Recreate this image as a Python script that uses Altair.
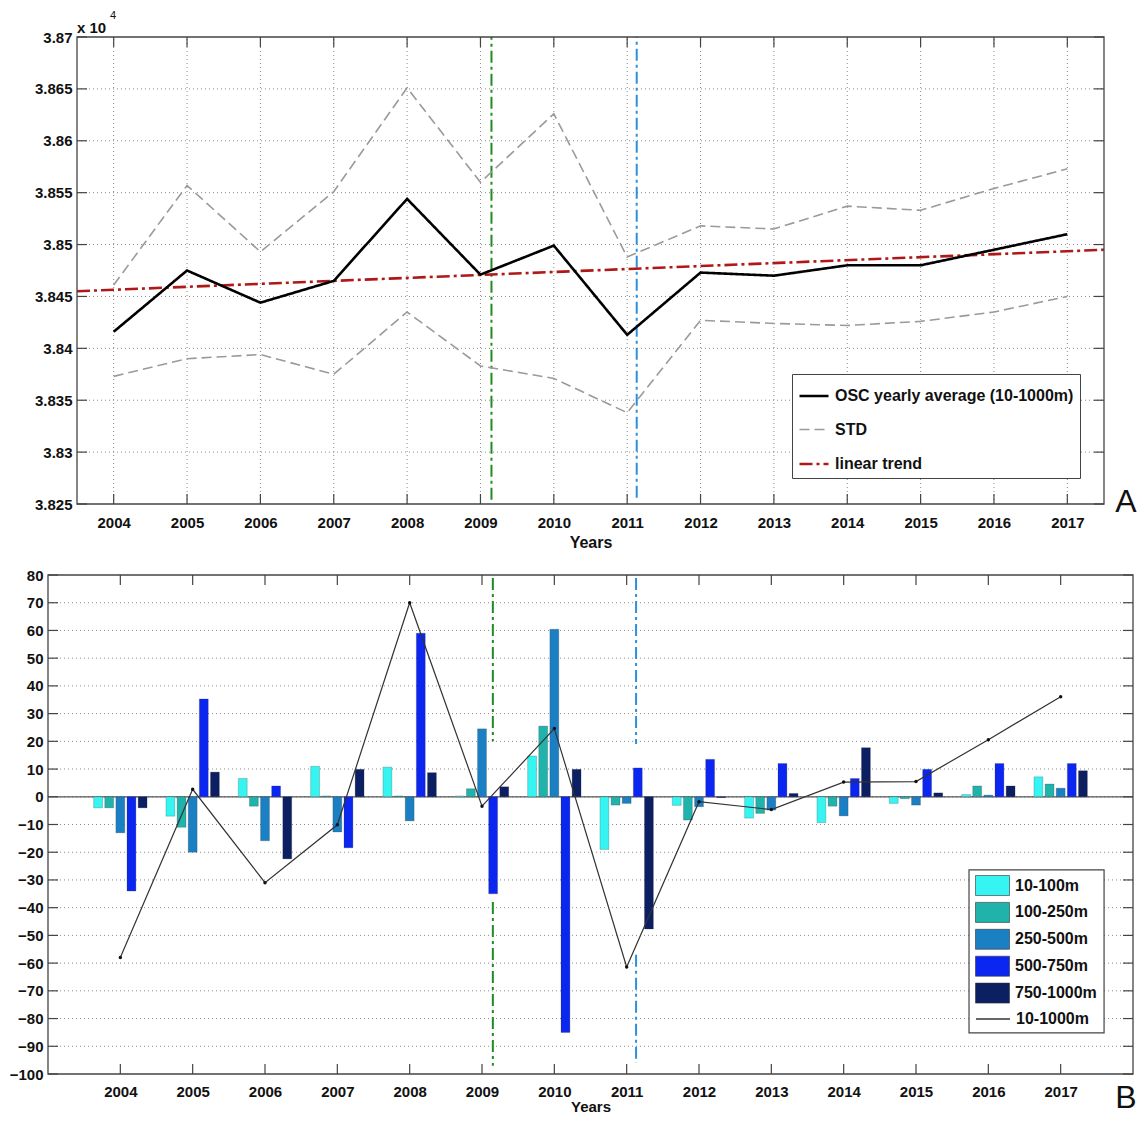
import altair as alt
import pandas as pd

# ---------------- data ----------------
years = list(range(2004, 2018))

# Panel A  (values x 10^4)
osc_mean = [3.8416, 3.8475, 3.8444, 3.8465, 3.8544, 3.8471, 3.8499,
            3.8413, 3.8473, 3.8470, 3.8480, 3.8480, 3.8495, 3.8510]
std_upper = [3.8461, 3.8557, 3.8493, 3.8551, 3.8651, 3.8560, 3.8626,
             3.8488, 3.8518, 3.8515, 3.8537, 3.8533, 3.8554, 3.8573]
std_lower = [3.8373, 3.8390, 3.8394, 3.8375, 3.8435, 3.8383, 3.8371,
             3.8338, 3.8427, 3.8424, 3.8422, 3.8426, 3.8435, 3.8450]
trend_years = [2003.5, 2017.5]
trend_values = [3.8455, 3.8495]
a_yticks = [3.825, 3.83, 3.835, 3.84, 3.845, 3.85, 3.855, 3.86, 3.865, 3.87]
a_series = ["OSC yearly average (10-1000m)", "STD", "linear trend"]

# Panel B
depth_labels = ["10-100m", "100-250m", "250-500m", "500-750m", "750-1000m"]
d_10_100 = [-4, -7, 6.6, 11, 10.7, 0.3, 14.7, -19, -3.1, -7.7, -9.3, -2.4, 0.8, 7.2]
d_100_250 = [-4, -11, -3.4, 0.3, 0.3, 2.9, 25.5, -3, -8.4, -6, -3.4, -0.7, 3.9, 4.6]
d_250_500 = [-13, -20, -15.9, -12.7, -8.7, 24.5, 60.4, -2.4, -3.6, -4.8, -6.9, -3, 0.6, 3.1]
d_500_750 = [-34, 35.3, 3.9, -18.4, 59, -35, -85, 10.4, 13.5, 12, 6.6, 9.9, 12, 12]
d_750_1000 = [-4, 8.9, -22.4, 9.9, 8.7, 3.6, 9.9, -47.7, -0.3, 1.2, 17.7, 1.4, 3.9, 9.4]
total_10_1000 = [-58, 2.7, -31, -10.1, 70, -3.4, 24.6, -61.4, -1.8, -4.6, 5.3, 5.5, 20.6, 36.1]
total_label = "10-1000m"
b_yticks = list(range(-100, 90, 10))

# event markers (dash-dot verticals)
green_year = 2009.15
blue_year = 2011.13
green_b_segments = [(78.9, 20), (-38, -97)]
blue_b_segments = [(78.9, 19), (-57, -96)]

depth_colors = ["#35F4F2", "#20B3AC", "#1B7FC3", "#0B26F0", "#0B1F62"]

# ---------------- layout (canvas pixels) ----------------
W, H = 1130, 1106
AXR = [69, 1096]
AYR = [496, 29]
BXR = [40, 1125]
BYR = [1066, 567]
A_XD = [2003.5, 2017.5]
A_YD = [3.825, 3.87]
B_XD = [2003, 2018]
B_YD = [-100, 80]

FONT = "Liberation Sans"
GRID = "#8a8a8a"
FRAME = "#444444"

sx_a = alt.Scale(domain=A_XD, range=AXR, nice=False, zero=False)
sy_a = alt.Scale(domain=A_YD, range=AYR, nice=False, zero=False)
sx_b = alt.Scale(domain=B_XD, range=BXR, nice=False, zero=False)
sy_b = alt.Scale(domain=B_YD, range=BYR, nice=False, zero=False)

common_axis = dict(grid=False, domain=False, ticks=False, tickSize=0,
                   labelFlush=False, labelOverlap=False)
ax_xa = alt.Axis(orient="bottom", offset=AYR[0] - H, values=years, format="d",
                 title="Years", labelPadding=11, titleY=38, titleBaseline="middle",
                 **common_axis)
ax_ya = alt.Axis(orient="left", offset=-AXR[0], values=a_yticks, format=".4~r",
                 title=None, labelPadding=5, **common_axis)
ax_xb = alt.Axis(orient="bottom", offset=BYR[0] - H, values=years, format="d",
                 title="Years", labelPadding=10, titleY=32, titleBaseline="middle",
                 titleFontSize=15, **common_axis)
ax_yb = alt.Axis(orient="left", offset=-BXR[0], values=b_yticks, format="d",
                 title=None, labelPadding=5, **common_axis)


def XA(f=None, d=None):
    if d is not None:
        return alt.XDatum(d, type="quantitative", scale=sx_a, axis=ax_xa)
    return alt.X(f, type="quantitative", scale=sx_a, axis=ax_xa)


def YA(f=None, d=None):
    if d is not None:
        return alt.YDatum(d, type="quantitative", scale=sy_a, axis=ax_ya)
    return alt.Y(f, type="quantitative", scale=sy_a, axis=ax_ya)


def XB(f=None, d=None):
    if d is not None:
        return alt.XDatum(d, type="quantitative", scale=sx_b, axis=ax_xb)
    return alt.X(f, type="quantitative", scale=sx_b, axis=ax_xb)


def YB(f=None, d=None):
    if d is not None:
        return alt.YDatum(d, type="quantitative", scale=sy_b, axis=ax_yb)
    return alt.Y(f, type="quantitative", scale=sy_b, axis=ax_yb)


one = pd.DataFrame({"k": [0]})

# ================= Panel A =================
a_xtick_len = (A_YD[1] - A_YD[0]) * 10 / abs(AYR[0] - AYR[1])
a_ytick_len = (A_XD[1] - A_XD[0]) * 10 / abs(AXR[1] - AXR[0])
b_xtick_len = (B_YD[1] - B_YD[0]) * 10 / abs(BYR[0] - BYR[1])
b_ytick_len = (B_XD[1] - B_XD[0]) * 10 / abs(BXR[1] - BXR[0])

a_gv = alt.Chart(pd.DataFrame({"year": years})).mark_rule(
    color=GRID, strokeDash=[1, 3], strokeWidth=1).encode(
    x=XA("year"), y=YA(d=A_YD[0]), y2=alt.Y2Datum(A_YD[1]))
a_gh = alt.Chart(pd.DataFrame({"v": a_yticks[1:-1]})).mark_rule(
    color=GRID, strokeDash=[1, 3], strokeWidth=1).encode(
    y=YA("v"), x=XA(d=A_XD[0]), x2=alt.X2Datum(A_XD[1]))

rows = []
for yv in years:
    rows.append((yv, yv, A_YD[0], A_YD[0] + a_xtick_len))
    rows.append((yv, yv, A_YD[1], A_YD[1] - a_xtick_len))
for v in a_yticks:
    rows.append((A_XD[0], A_XD[0] + a_ytick_len, v, v))
    rows.append((A_XD[1], A_XD[1] - a_ytick_len, v, v))
a_ticks_df = pd.DataFrame(rows, columns=["x", "x2", "y", "y2"])
a_ticks = alt.Chart(a_ticks_df).mark_rule(color=FRAME, strokeWidth=1.2).encode(
    x=XA("x"), x2="x2:Q", y=YA("y"), y2="y2:Q")

a_frame = alt.Chart(one).mark_rect(fill="transparent", stroke=FRAME, strokeWidth=1.3).encode(
    x=XA(d=A_XD[0]), x2=alt.X2Datum(A_XD[1]), y=YA(d=A_YD[0]), y2=alt.Y2Datum(A_YD[1]))

a_green = alt.Chart(one).mark_rule(color="#218C21", strokeDash=[12, 4, 3, 4], strokeWidth=2).encode(
    x=XA(d=green_year), y=YA(d=3.8254), y2=alt.Y2Datum(A_YD[1]))
a_blue = alt.Chart(one).mark_rule(color="#2C90DC", strokeDash=[12, 4, 3, 4], strokeWidth=2).encode(
    x=XA(d=blue_year), y=YA(d=3.8256), y2=alt.Y2Datum(A_YD[1]))

lines = []
for yv, v in zip(trend_years, trend_values):
    lines.append((a_series[2], "trend", yv, v))
for yv, v in zip(years, std_upper):
    lines.append((a_series[1], "upper", yv, v))
for yv, v in zip(years, std_lower):
    lines.append((a_series[1], "lower", yv, v))
for yv, v in zip(years, osc_mean):
    lines.append((a_series[0], "mean", yv, v))
a_df = pd.DataFrame(lines, columns=["series", "part", "year", "value"])

leg_a = alt.Legend(orient="none", legendX=784, legendY=366, title=None,
                   symbolType="stroke", symbolSize=841, symbolStrokeWidth=2,
                   labelFont=FONT, labelFontSize=16, labelFontWeight="bold",
                   labelColor="#111111", labelOffset=5, labelLimit=400,
                   padding=6, rowPadding=10, strokeColor=FRAME, fillColor="white",
                   labelExpr="datum.label == 'linear trend' ? '\u00a0\u00a0\u00a0\u00a0linear trend' : datum.label")

a_lines = alt.Chart(a_df).mark_line().encode(
    x=XA("year"), y=YA("value"),
    color=alt.Color("series:N", scale=alt.Scale(domain=a_series, range=["#000000", "#9a9a9a", "#B01818"]),
                    legend=leg_a),
    strokeDash=alt.StrokeDash("series:N", scale=alt.Scale(domain=a_series, range=[[1, 0], [10, 5], [13, 4, 3, 4]]),
                              legend=leg_a),
    strokeWidth=alt.StrokeWidth("series:N", scale=alt.Scale(type="ordinal", domain=a_series, range=[2.6, 1.6, 2.6]),
                                legend=None),
    detail="part:N",
    order="year:Q",
)

a_x10 = alt.Chart(one).mark_text(text="x 10", align="left", baseline="middle", dy=-9,
                                 font=FONT, fontSize=15, fontWeight="bold", color="#111111").encode(
    x=XA(d=A_XD[0]), y=YA(d=A_YD[1]))
a_exp = alt.Chart(one).mark_text(text="4", align="left", baseline="middle", dx=33, dy=-21,
                                 font=FONT, fontSize=11, color="#111111").encode(
    x=XA(d=A_XD[0]), y=YA(d=A_YD[1]))
a_letter = alt.Chart(one).mark_text(text="A", align="center", baseline="middle", dx=22, dy=-2,
                                    font=FONT, fontSize=32, color="#111111").encode(
    x=XA(d=A_XD[1]), y=YA(d=A_YD[0]))

panel_a = alt.layer(a_gv, a_gh, a_green, a_blue, a_lines, a_frame, a_ticks,
                    a_x10, a_exp, a_letter)

# ================= Panel B =================
b_gh = alt.Chart(pd.DataFrame({"v": b_yticks[1:-1]})).mark_rule(
    color=GRID, strokeDash=[1, 3], strokeWidth=1).encode(
    y=YB("v"), x=XB(d=B_XD[0]), x2=alt.X2Datum(B_XD[1]))

rows = []
for yv in years:
    rows.append((yv, yv, B_YD[0], B_YD[0] + b_xtick_len))
    rows.append((yv, yv, B_YD[1], B_YD[1] - b_xtick_len))
for v in b_yticks:
    rows.append((B_XD[0], B_XD[0] + b_ytick_len, v, v))
    rows.append((B_XD[1], B_XD[1] - b_ytick_len, v, v))
b_ticks_df = pd.DataFrame(rows, columns=["x", "x2", "y", "y2"])
b_ticks = alt.Chart(b_ticks_df).mark_rule(color=FRAME, strokeWidth=1.2).encode(
    x=XB("x"), x2="x2:Q", y=YB("y"), y2="y2:Q")

b_frame = alt.Chart(one).mark_rect(fill="transparent", stroke=FRAME, strokeWidth=1.3).encode(
    x=XB(d=B_XD[0]), x2=alt.X2Datum(B_XD[1]), y=YB(d=B_YD[0]), y2=alt.Y2Datum(B_YD[1]))

b_zero = alt.Chart(one).mark_rule(color="#555555", strokeWidth=1.2).encode(
    y=YB(d=0), x=XB(d=B_XD[0]), x2=alt.X2Datum(B_XD[1]))

series_vals = [d_10_100, d_100_250, d_250_500, d_500_750, d_750_1000]
group_w = 5 / 6.5
bar_step = group_w / 5
bar_w = bar_step * 0.8
bar_rows = []
for i, (lab, vals) in enumerate(zip(depth_labels, series_vals)):
    off = (i - 2) * bar_step
    for yv, v in zip(years, vals):
        bar_rows.append((lab, yv, v, yv + off - bar_w / 2, yv + off + bar_w / 2))
b_df = pd.DataFrame(bar_rows, columns=["depth", "year", "value", "x0", "x1"])

leg_b = alt.Legend(orient="none", legendX=974, legendY=867, title=None,
                   symbolType="M-1.7,-1H1.7V1H-1.7Z", symbolSize=400,
                   symbolStrokeColor="#333333", symbolStrokeWidth=0.6,
                   labelFont=FONT, labelFontSize=16, labelFontWeight="bold",
                   labelColor="#111111", labelOffset=12, labelLimit=300,
                   padding=0, rowPadding=3.9)

b_bars = alt.Chart(b_df).mark_bar(stroke="#333333", strokeWidth=0.4, strokeOpacity=0.6).encode(
    x=XB("x0"), x2="x1:Q", y=YB("value"), y2=alt.Y2Datum(0),
    color=alt.Color("depth:N", scale=alt.Scale(domain=depth_labels, range=depth_colors),
                    legend=leg_b),
)

b_legbox = alt.Chart(one).mark_rect(fill="white", stroke=FRAME, strokeWidth=1.2).encode(
    x=XB(d=2015.733), x2=alt.X2Datum(2017.6), y=YB(d=-26.4), y2=alt.Y2Datum(-85.2))

ev_rows = []
for a, b in green_b_segments:
    ev_rows.append(("green", green_year, a, b))
for a, b in blue_b_segments:
    ev_rows.append(("blue", blue_year, a, b))
ev_df = pd.DataFrame(ev_rows, columns=["ev", "x", "y", "y2"])
b_green = alt.Chart(ev_df[ev_df.ev == "green"]).mark_rule(
    color="#218C21", strokeDash=[12, 4, 3, 4], strokeWidth=2).encode(
    x=XB("x"), y=YB("y"), y2="y2:Q")
b_blue = alt.Chart(ev_df[ev_df.ev == "blue"]).mark_rule(
    color="#2C90DC", strokeDash=[12, 4, 3, 4], strokeWidth=2).encode(
    x=XB("x"), y=YB("y"), y2="y2:Q")

tot_df = pd.DataFrame({"year": years, "value": total_10_1000, "name": total_label})
leg_line = alt.Legend(orient="none", legendX=974, legendY=1000, title=None,
                      symbolType="M-1.7,0H1.7", symbolSize=400, symbolStrokeWidth=1.5,
                      labelFont=FONT, labelFontSize=16, labelFontWeight="bold",
                      labelColor="#111111", labelOffset=12, labelLimit=300, padding=0)
b_line = alt.Chart(tot_df).mark_line(strokeWidth=1.2).encode(
    x=XB("year"), y=YB("value"),
    stroke=alt.Stroke("name:N", scale=alt.Scale(domain=[total_label], range=["#333333"]),
                      legend=leg_line),
)
b_pts = alt.Chart(tot_df).mark_point(filled=True, size=12, color="#111111", opacity=1).encode(
    x=XB("year"), y=YB("value"))

b_letter = alt.Chart(one).mark_text(text="B", align="center", baseline="middle", dx=-7, dy=24,
                                    font=FONT, fontSize=32, color="#111111").encode(
    x=XB(d=B_XD[1]), y=YB(d=B_YD[0]))

panel_b = alt.layer(b_gh, b_zero, b_bars, b_green, b_blue, b_legbox, b_frame, b_ticks,
                    b_line, b_pts, b_letter)

chart = alt.layer(panel_a, panel_b).resolve_scale(
    x="independent", y="independent", color="independent",
    strokeDash="independent", strokeWidth="independent", stroke="independent",
).properties(
    width=W, height=H, autosize=alt.AutoSizeParams(type="none"), padding=0,
).configure_view(stroke="transparent").configure_axis(
    labelFont=FONT, labelFontSize=15, labelFontWeight="bold", labelColor="#111111",
    titleFont=FONT, titleFontSize=16, titleFontWeight="bold", titleColor="#111111",
)

chart.save("out.html", embed_options={"renderer": "svg", "actions": False})
